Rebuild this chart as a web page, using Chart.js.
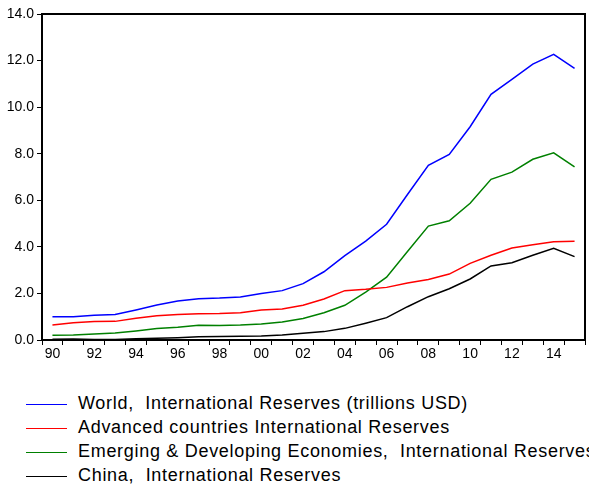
<!DOCTYPE html>
<html>
<head>
<meta charset="utf-8">
<script src="https://cdn.jsdelivr.net/npm/chart.js@4/dist/chart.umd.min.js"></script>
<style>
  html, body { margin: 0; padding: 0; background: #fff; }
  #wrap { position: relative; width: 589px; height: 486px; overflow: hidden; }
  #chartBox { position: absolute; left: 0; top: 0; width: 589px; height: 365px; }
  #legend { position: absolute; left: 0; top: 393px; width: 589px; font-family: "Liberation Sans", Arial, sans-serif; font-size: 18px; letter-spacing: 0.7px; color: #000; }
  .row { position: relative; height: 23.9px; white-space: pre; }
  .row .ln { position: absolute; left: 26px; top: 11px; width: 41px; height: 0; border-top: 1.5px solid #000; }
  .row .tx { position: absolute; left: 78px; top: 0px; }
</style>
</head>
<body>
<div id="wrap">
  <div id="chartBox"><canvas id="c" width="589" height="365"></canvas></div>
  <div id="legend"></div>
</div>
<script>
const years = ["90","91","92","93","94","95","96","97","98","99","00","01","02","03","04","05","06","07","08","09","10","11","12","13","14","15"];
const tickYears = ["90","92","94","96","98","00","02","04","06","08","10","12","14"];
const seriesNames = [
  "World,  International Reserves (trillions USD)",
  "Advanced countries International Reserves",
  "Emerging & Developing Economies,  International Reserves",
  "China,  International Reserves"
];
const seriesColors = ["#0000ff", "#ff0000", "#008000", "#000000"];
const world    = [1.00,1.00,1.06,1.10,1.29,1.50,1.67,1.77,1.80,1.85,2.00,2.12,2.42,2.93,3.62,4.25,4.97,6.25,7.50,7.97,9.16,10.55,11.19,11.85,12.27,11.67];
const advanced = [0.64,0.74,0.79,0.80,0.93,1.04,1.10,1.13,1.14,1.17,1.29,1.33,1.49,1.76,2.12,2.18,2.26,2.45,2.60,2.83,3.29,3.64,3.95,4.09,4.22,4.24];
const emerging = [0.20,0.22,0.26,0.30,0.39,0.49,0.55,0.63,0.62,0.64,0.69,0.77,0.92,1.17,1.49,2.06,2.70,3.80,4.89,5.12,5.87,6.90,7.21,7.76,8.04,7.44];
const china    = [0.03,0.04,0.02,0.02,0.05,0.07,0.10,0.14,0.15,0.16,0.17,0.22,0.29,0.36,0.50,0.72,0.96,1.43,1.86,2.20,2.62,3.18,3.32,3.64,3.94,3.58];
const seriesData = [world, advanced, emerging, china];

const frame = {
  id: 'frame',
  afterDatasetsDraw(chart) {
    const a = chart.chartArea, ctx = chart.ctx;
    ctx.save();
    ctx.strokeStyle = '#000';
    ctx.lineWidth = 2;
    ctx.beginPath();
    ctx.moveTo(a.left, a.top);
    ctx.lineTo(a.right, a.top);
    ctx.lineTo(a.right, a.bottom);
    ctx.stroke();
    ctx.restore();
  }
};

const font = { family: '"Liberation Sans", Arial, sans-serif', size: 14 };

new Chart(document.getElementById('c'), {
  type: 'line',
  data: {
    labels: years,
    datasets: seriesData.map((d, i) => ({
      label: seriesNames[i],
      data: d,
      borderColor: seriesColors[i],
      backgroundColor: seriesColors[i],
      borderWidth: 1.5,
      pointRadius: 0,
      tension: 0,
      fill: false
    }))
  },
  options: {
    responsive: false,
    animation: false,
    layout: { padding: { top: 14, right: 4, left: 0, bottom: 0 } },
    plugins: { legend: { display: false }, tooltip: { enabled: false } },
    scales: {
      x: {
        type: 'category',
        offset: true,
        grid: { display: true, offset: true, drawOnChartArea: false, drawTicks: true, tickLength: 5, color: '#000', lineWidth: 1 },
        border: { display: true, color: '#000', width: 2 },
        ticks: {
          autoSkip: false, maxRotation: 0, padding: 1, color: '#000', font: font,
          callback: function(v, i) { const l = this.getLabelForValue(v); return tickYears.includes(l) ? l : ''; }
        },
        afterFit(s) { s.height = 25; }
      },
      y: {
        min: 0, max: 14,
        ticks: { stepSize: 2, color: '#000', font: font, padding: 3, callback: v => Number(v).toFixed(1) },
        grid: { display: true, drawOnChartArea: false, drawTicks: true, tickLength: 5, color: '#000', lineWidth: 1 },
        border: { display: true, color: '#000', width: 2 },
        afterFit(s) { s.width = 42; }
      }
    }
  },
  plugins: [frame]
});

const leg = document.getElementById('legend');
seriesNames.forEach((n, i) => {
  const r = document.createElement('div');
  r.className = 'row';
  const l = document.createElement('div'); l.className = 'ln'; l.style.borderTopColor = seriesColors[i];
  const t = document.createElement('div'); t.className = 'tx'; t.textContent = n;
  r.appendChild(l); r.appendChild(t); leg.appendChild(r);
});
</script>
</body>
</html>
